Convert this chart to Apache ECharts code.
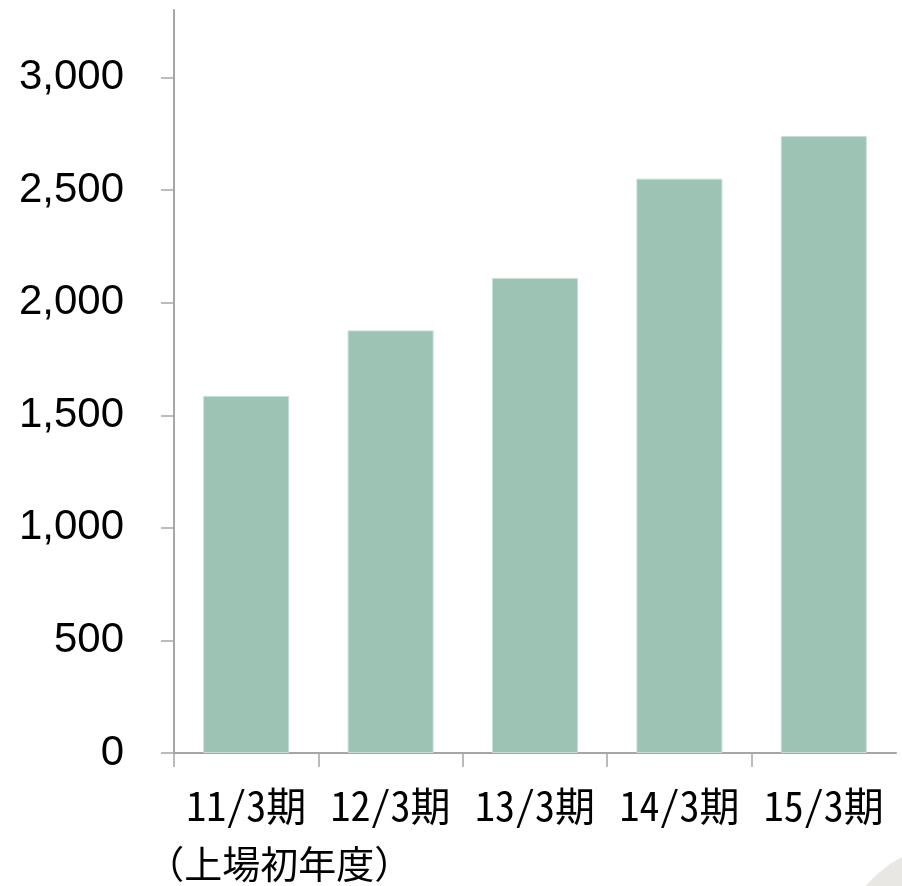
<!DOCTYPE html>
<html>
<head>
<meta charset="utf-8">
<style>
  html, body { margin: 0; padding: 0; background: #fff; }
  #chart { width: 902px; height: 886px; }
</style>
<script src="https://cdn.jsdelivr.net/npm/echarts@6/dist/echarts.min.js"></script>
</head>
<body>
<div id="chart"></div>
<script>
// Fiscal periods and values
const periods = ['11/3期', '12/3期', '13/3期', '14/3期', '15/3期'];
const periodNotes = ['（上場初年度）', '', '', '', ''];
const values = [1586, 1877, 2110, 2551, 2740];
const yTicks = [0, 500, 1000, 1500, 2000, 2500, 3000];

const axisGray = '#A6A6A6';
const labelFont = '"Noto Sans Mono CJK JP", "Noto Sans CJK JP", sans-serif';

// Category boundaries that get a tick mark (left edge of each period, none at the far right)
const boundaryTicks = periods.map(function (_, i) { return i; });

const chart = echarts.init(document.getElementById('chart'), null, { renderer: 'canvas' });

chart.setOption({
  animation: false,
  backgroundColor: '#ffffff',
  grid: { left: 174, right: 6, top: 10, bottom: 133, containLabel: false, outerBoundsMode: 'none' },
  xAxis: [{
    type: 'category',
    data: periods,
    position: 'bottom',
    axisLine: { show: true, lineStyle: { color: axisGray, width: 2 } },
    axisTick: { show: false },
    axisLabel: {
      interval: 0,
      margin: 24,
      color: '#000',
      fontFamily: labelFont,
      fontSize: 40,
      lineHeight: 58,
      formatter: function (val, idx) {
        const note = periodNotes[idx];
        return note ? '{a|' + val + '}\n{b|' + note + '}' : '{a|' + val + '}';
      },
      rich: {
        a: { fontFamily: labelFont, fontSize: 40, lineHeight: 58, color: '#000' },
        b: { fontFamily: labelFont, fontSize: 38, lineHeight: 58, color: '#000', padding: [0, 0, 0, 66] }
      }
    }
  }, {
    // tick-only axis spanning the same width, one unit per period
    type: 'value',
    position: 'bottom',
    min: 0,
    max: periods.length,
    interval: 1,
    splitLine: { show: false },
    axisLine: { show: false },
    axisLabel: { show: false },
    axisTick: {
      show: true,
      length: 14,
      customValues: boundaryTicks,
      lineStyle: { color: axisGray, width: 1.5 }
    }
  }],
  yAxis: {
    type: 'value',
    min: 0,
    max: 3300,
    interval: 500,
    splitLine: { show: false },
    axisLine: { show: true, lineStyle: { color: axisGray, width: 2 } },
    axisTick: { show: true, inside: false, length: 13, lineStyle: { color: axisGray, width: 1.5 } },
    axisLabel: {
      margin: 50,
      color: '#000',
      fontFamily: '"Liberation Sans", Arial, sans-serif',
      fontSize: 42,
      showMaxLabel: false,
      formatter: function (v) {
        return yTicks.indexOf(v) >= 0 ? v.toLocaleString('en-US') : '';
      }
    }
  },
  series: [{
    type: 'bar',
    xAxisIndex: 0,
    data: values,
    barWidth: 86,
    itemStyle: { color: '#9DC3B5', borderColor: '#C9DED6', borderWidth: 1 },
    silent: true
  }],
  graphic: [{
    type: 'polygon',
    silent: true,
    shape: { points: [[866, 886], [872, 879], [880, 872], [890, 864], [902, 857], [902, 886]] },
    style: { fill: '#E9E7E4' }
  }]
});
</script>
</body>
</html>
